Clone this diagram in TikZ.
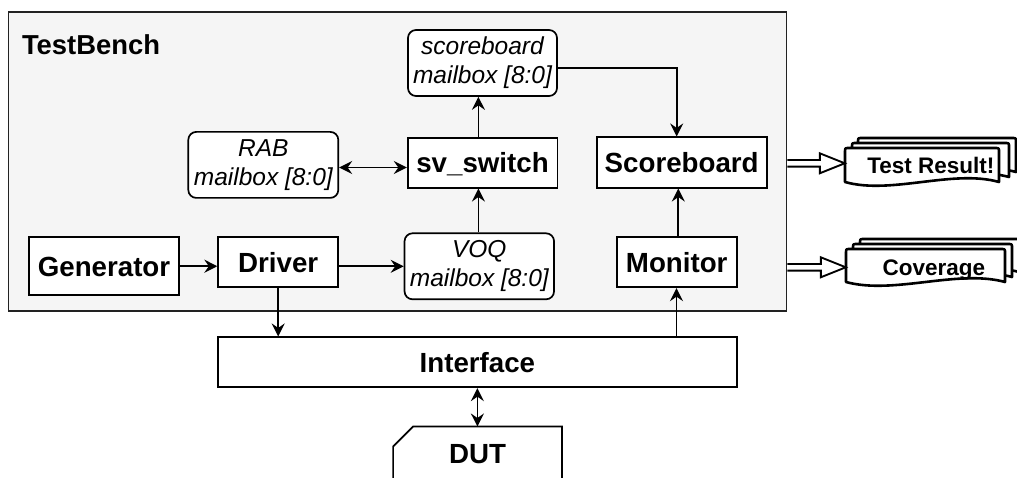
\documentclass[tikz,border=0pt]{standalone}
\usepackage{fontspec}
\setmainfont{Liberation Sans}
\usetikzlibrary{arrows.meta,calc}

\definecolor{benchfill}{HTML}{F5F5F5}
\definecolor{benchline}{HTML}{222222}

% one sheet of a stacked document: top-left x, top-left y, width, bottom y
\newcommand\docsheet[4]{%
  \draw[sheet] (#1,#4) -- (#1,#2+4) .. controls (#1,#2) .. (#1+4,#2)
    -- (#1+#3-4,#2) .. controls (#1+#3,#2) .. (#1+#3,#2+4)
    -- (#1+#3,#4) .. controls (#1+#3-0.3*#3,#4-13) and (#1+0.3*#3,#4+13) .. (#1,#4) -- cycle;}

\begin{document}
\begin{tikzpicture}[x=1pt,y=-1pt,
  >={Stealth[length=13pt,width=13pt,inset=4.5pt]},
  blk/.style={draw=black, fill=white, line width=1.7pt, inner sep=0pt,
    text height=20pt, text depth=0pt,
    font=\fontsize{27.7}{33}\selectfont\bfseries},
  mbox/.style={draw=black, fill=white, line width=1.7pt, rounded corners=8pt,
    inner sep=0pt, align=center, font=\fontsize{24.5}{29}\selectfont\itshape},
  doclbl/.style={inner sep=0pt, anchor=base, font=\fontsize{22.5}{27}\selectfont\bfseries},
  sheet/.style={draw=black, fill=white, line width=2.6pt, line join=round},
  hollow/.style={draw=black, fill=white, line width=1.9pt, line join=miter},
  wire/.style={draw=black, line width=1.7pt},
  ghost/.style={draw=none, inner sep=0pt}
]
\useasboundingbox (0,0) rectangle (1017,478);

% test bench frame
\node[draw=benchline, fill=benchfill, line width=1.7pt, inner sep=0pt,
  minimum width=778pt, minimum height=299pt] (tb) at (397.6,161.2) {};
\node[anchor=base west, inner sep=0pt, font=\fontsize{27.4}{33}\selectfont\bfseries]
  (tbl) at (21.8,55) {TestBench};

% blocks
\node[blk, minimum width=150pt, minimum height=58pt] (gen) at (104,266.2) {Generator};
\node[blk, minimum width=120pt, minimum height=50pt] (drv) at (278.2,262.3) {Driver};
\node[mbox, minimum width=149.5pt, minimum height=66pt] (voq) at (479.3,266.3) {VOQ\\mailbox [8:0]};
\node[mbox, minimum width=150pt, minimum height=66pt] (rab) at (263.3,164.9) {RAB\\mailbox [8:0]};
\node[blk, minimum width=149.7pt, minimum height=50pt] (sv) at (482.5,162.7) {sv\_switch};
\node[mbox, minimum width=149pt, minimum height=66pt] (sbm) at (482.5,63) {scoreboard\\mailbox [8:0]};
\node[blk, minimum width=170pt, minimum height=50.4pt] (sb) at (681.7,162.5) {Scoreboard};
\node[blk, minimum width=120pt, minimum height=50pt] (mon) at (676.7,262.3) {Monitor};
\node[blk, minimum width=518.8pt, minimum height=50pt] (ifc) at (477.4,362.3) {Interface};

% DUT card with cut corner
\node[ghost, minimum width=168.4pt, minimum height=80pt] (dut) at (477.5,466.7) {};
\draw[line width=1.7pt] (dut.south west) -- ($(dut.north west)+(0,20)$)
  -- ($(dut.north west)+(20,0)$) -- (dut.north east) -- (dut.south east);
\node[inner sep=0pt, text height=20pt, text depth=0pt,
  font=\fontsize{27.7}{33}\selectfont\bfseries] (dutl) at (477.7,453.3) {DUT};

% connectors inside the bench
\draw[wire,->] (gen.east) -- (gen.east -| drv.west);
\draw[wire,->] (voq.west -| drv.east) -- (voq.west);
\coordinate (col) at (478.4,0);
\draw[wire,->] (col |- voq.north) -- (col |- sv.south);
\draw[wire,->] (col |- sv.north) -- (col |- sbm.south);
\coordinate (row) at (0,167.5);
\draw[wire,<->] (row -| rab.east) -- (row -| sv.west);
\coordinate (sbm0) at ($(sbm.east)+(0,5.3)$);
\coordinate (drop) at (676.7,0);
\draw[wire,->] (sbm0) -| (drop |- sb.north);
\coordinate (rise) at (678.3,0);
\draw[wire,->] (rise |- mon.north) -- (rise |- sb.south);

% bench <-> interface <-> DUT
\draw[wire,->] (drv.south) -- (drv.south |- ifc.north);
\coordinate (up) at (676.5,0);
\draw[wire,->] (up |- ifc.north) -- (up |- mon.south);
\draw[wire,<->] (ifc.south) -- (ifc.south |- dut.north);

% report documents
\docsheet{858}{138}{158}{172}
\docsheet{852}{143}{157}{177}
\docsheet{845}{148}{154}{182}
\node[ghost, minimum width=154pt, minimum height=34pt] (tr) at (922,165) {};
\node[doclbl] (trl) at (930.8,173.3) {Test Result!};

\docsheet{860}{239}{159}{272}
\docsheet{853}{244}{159}{277}
\docsheet{846}{249}{159}{282}
\node[ghost, minimum width=159pt, minimum height=34pt] (cov) at (925.5,266) {};
\node[doclbl] (covl) at (933.8,276) {Coverage};

% hollow output arrows
\draw[hollow] let \p1=(tb.east |- 0,163.3), \p2=(tr.west |- 0,163.3) in
  (\x1,\y1-3.3) -- (\x2-25,\y1-3.3) -- (\x2-25,\y1-10) -- (\x2,\y1)
  -- (\x2-25,\y1+10) -- (\x2-25,\y1+3.3) -- (\x1,\y1+3.3);
\draw[hollow] let \p1=(tb.east |- 0,267.3), \p2=(cov.west |- 0,267.3) in
  (\x1,\y1-3.3) -- (\x2-25,\y1-3.3) -- (\x2-25,\y1-10) -- (\x2,\y1)
  -- (\x2-25,\y1+10) -- (\x2-25,\y1+3.3) -- (\x1,\y1+3.3);
\end{tikzpicture}
\end{document}
